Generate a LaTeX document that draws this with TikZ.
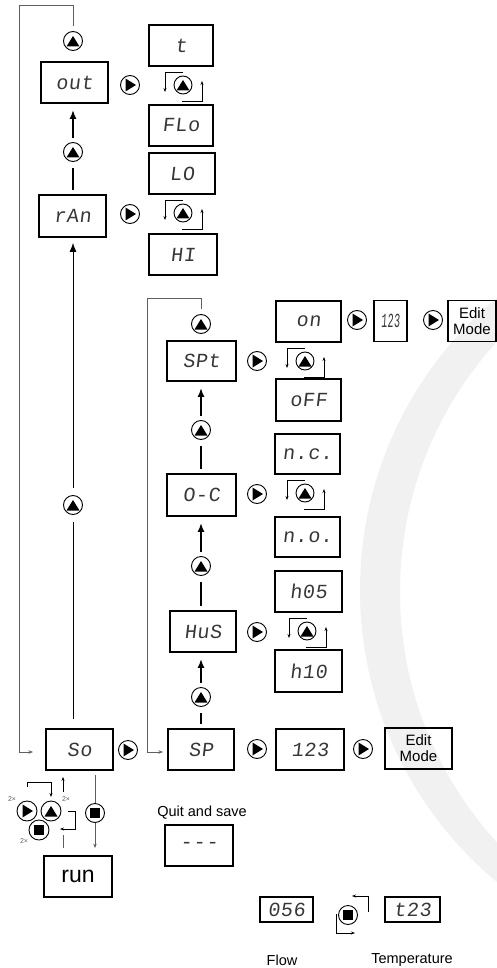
\documentclass[tikz,border=0pt]{standalone}
\usepackage{fontspec}
\usepackage{graphicx}
\setmainfont{Liberation Sans}
\newfontfamily\segfont[FakeSlant=0.12,LetterSpace=3]{Liberation Mono}
\newcommand\segtext{\segfont\fontsize{20}{20}\selectfont}
\usetikzlibrary{arrows.meta}
\definecolor{globegrey}{RGB}{241, 241, 241}
\definecolor{wiregrey}{RGB}{95, 95, 95}
\definecolor{lcdgrey}{RGB}{55, 55, 55}
\tikzstyle{display} = [
  draw,
  line width=1.8pt,
  minimum width=66pt,
  minimum height=41pt,
  inner sep=0pt,
  font=\segtext,
  text=lcdgrey,
]
\tikzstyle{editbox} = [
  draw,
  line width=1.8pt,
  minimum height=41pt,
  inner sep=0pt,
  align=center,
  font=\fontsize{15}{16}\selectfont,
]
\tikzstyle{plaintext} = [font=\fontsize{14.5}{16}\selectfont, inner sep=0pt]
\tikzstyle{twice} = [font=\fontsize{7}{7}\selectfont, text=wiregrey, inner sep=0pt]
\tikzstyle{key} = [circle, draw, line width=0.9pt, minimum size=19pt, inner sep=0pt]
\tikzstyle{keyup} = [key, path picture={
  \fill ([yshift=5pt]path picture bounding box.center) -- ++(-6.5pt,-10.5pt) -- ++(13pt,0pt) -- cycle;}]
\tikzstyle{keyright} = [key, path picture={
  \fill ([xshift=6pt]path picture bounding box.center) -- ++(-10.5pt,6.5pt) -- ++(0pt,-13pt) -- cycle;}]
\tikzstyle{keystop} = [key, path picture={
  \fill ([shift={(-5pt,-5pt)}]path picture bounding box.center) rectangle ++(10pt,10pt);}]
\tikzstyle{link} = [line width=1.8pt, shorten <=4.5pt, shorten >=6pt]
\tikzstyle{wire} = [draw=wiregrey, line width=0.8pt, -{Stealth[length=4.5pt,width=3.5pt]}]
\tikzstyle{turn} = [line width=0.7pt, -{Stealth[length=4pt,width=3pt]}]

\begin{document}
\begin{tikzpicture}[x=1pt, y=-1pt, >={Latex[length=9pt,width=7pt]}]
  \useasboundingbox (0,0) rectangle (497,968);

  % Globe behind the menu
  \begin{scope}
    \clip (0,0) rectangle (497,968);
    \fill[globegrey, even odd rule] (740,590) circle (380pt) (772,592) circle (372pt);
  \end{scope}

  % Output and range
  \node[keyup] (uOutTop) at (73,41) {};
  \node[display, minimum width=64pt] (t) at (181,45.5) {t};
  \node[display, minimum width=67pt] (out) at (74.5,82.5) {out};
  \node[keyright] (kOut) at (130,85) {};
  \node[keyup, minimum size=18pt] (cOut) at (183,85) {};
  \node[display, minimum width=64pt] (FLo) at (181,125.5) {FLo};
  \node[keyup] (uRan) at (73,152) {};
  \node[display] (LO) at (182,173.5) {LO};
  \node[display, minimum width=67pt, minimum height=42pt] (rAn) at (72.5,216) {rAn};
  \node[keyright] (kRan) at (130,214) {};
  \node[keyup, minimum size=18pt] (cRan) at (183,213) {};
  \node[display, minimum width=68pt] (HI) at (183,254.5) {HI};
  \node[keyup] (uMain) at (73,505) {};

  % Set point menu
  \node[keyup] (uSptTop) at (201,324) {};
  \node[display, minimum width=65pt] (on) at (308.5,321.5) {on};
  \node[keyright] (kOn) at (357,320) {};
  \node[display, minimum width=33pt] (valOn) at (390.5,321) {\scalebox{0.5}[1]{123}};
  \node[keyright] (kValOn) at (433,320) {};
  \node[editbox, minimum width=48pt] (editOn) at (472,321) {Edit\\Mode};
  \node[display, minimum width=69pt, minimum height=40pt] (SPt) at (201.5,361) {SPt};
  \node[keyright] (kSpt) at (257,361) {};
  \node[keyup, minimum size=18pt] (cSpt) at (305,361) {};
  \node[display, minimum width=65pt, minimum height=42pt] (oFF) at (308.5,400) {oFF};
  \node[keyup] (uOc) at (201,430) {};
  \node[display, minimum width=65pt, minimum height=40pt] (nc) at (307.5,454) {n.c.};
  \node[display, minimum width=69pt, minimum height=42pt] (OC) at (201.5,495) {O-C};
  \node[keyright] (kOc) at (257,494) {};
  \node[keyup, minimum size=18pt] (cOc) at (305,493) {};
  \node[display, minimum width=65pt, minimum height=40pt] (no) at (307.5,537) {n.o.};
  \node[keyup] (uHus) at (201,566) {};
  \node[display, minimum width=67pt] (h05) at (308.5,591.5) {h05};
  \node[display] (HuS) at (203,631.5) {HuS};
  \node[keyright] (kHus) at (257,632) {};
  \node[keyup, minimum size=18pt] (cHus) at (307,631) {};
  \node[display, minimum width=67pt, minimum height=42pt] (h10) at (308.5,671) {h10};
  \node[keyup] (uSp) at (201,697) {};

  % Bottom row
  \node[display, minimum width=67pt] (So) at (79.5,749.5) {So};
  \node[keyright] (kSo) at (128,750) {};
  \node[display] (SP) at (201,749.5) {SP};
  \node[keyright] (kSp) at (257,749) {};
  \node[display, minimum width=68pt] (val) at (310,749.5) {123};
  \node[keyright] (kVal) at (363,749) {};
  \node[editbox, minimum width=67pt] (edit) at (418.5,748.5) {Edit\\Mode};

  % Leaving the menu
  \node[keystop] (kStop) at (95,813) {};
  \node[display, minimum width=68pt, font=\fontsize{23}{23}\selectfont, text=black] (run) at (78,876.5) {run};
  \node[keyright, minimum size=20pt] (kR) at (27,811) {};
  \node[keyup, minimum size=20pt] (kU) at (51,811) {};
  \node[keystop, minimum size=20pt] (kS) at (39,830) {};
  \node[twice] (twoR) at (12,799) {2×};
  \node[twice] (twoU) at (66,799) {2×};
  \node[twice] (twoS) at (24,841) {2×};
  \node[plaintext] (quitText) at (202,813) {Quit and save};
  \node[display, minimum width=68pt] (quit) at (199,845.5) {-\kern1pt-\kern1pt-};

  % Run display
  \node[display, minimum width=53pt, minimum height=25pt] (flow) at (286.5,909.5) {056};
  \node[keystop] (kFlow) at (348,915) {};
  \node[display, minimum width=55pt, minimum height=25pt] (temp) at (412.5,909.5) {t23};
  \node[plaintext] (flowText) at (282,960) {Flow};
  \node[plaintext] (tempText) at (412,960) {Temperature};

  % Steps up the menus
  \draw[link] (rAn.north -| uRan) -- (uRan);
  \draw[link, ->] (uRan) -- (uRan |- out.south);
  \draw[line width=0.8pt, shorten <=9pt, shorten >=7pt] (So.north -| uMain) -- (uMain);
  \draw[line width=0.8pt, ->, shorten <=7pt, shorten >=5pt] (uMain) -- (uMain |- rAn.south);
  \draw[link] (SP.north -| uSp) -- (uSp);
  \draw[link, ->] (uSp) -- (uSp |- HuS.south);
  \draw[link] (HuS.north -| uHus) -- (uHus);
  \draw[link, ->] (uHus) -- (uHus |- OC.south);
  \draw[link] (OC.north -| uOc) -- (uOc);
  \draw[link, ->] (uOc) -- (uOc |- SPt.south);

  % Back to the start
  \coordinate (outerCorner) at (19,5);
  \coordinate (soEntry) at (33,752);
  \draw[wire, shorten <=5pt] (uOutTop.north) |- (outerCorner) |- (soEntry);
  \coordinate (innerCorner) at (147,298);
  \coordinate (spEntry) at (163,752);
  \draw[wire, shorten <=5pt] (uSptTop.north) |- (innerCorner) |- (spEntry);

  % Toggles
  \foreach \k in {cOut, cRan, cSpt, cOc, cHus} {
    \draw[turn] ([yshift=13pt]\k.center) -- ++(-18pt,0pt) -- ++(0pt,-20pt);
    \draw[turn] ([shift={(-1pt,-16pt)}]\k.center) -- ++(20pt,0pt) -- ++(0pt,20pt);
  }

  % Quit paths
  \draw[wire, -, shorten <=4pt] (So.south -| kStop) -- (kStop);
  \draw[wire, shorten >=7pt] (kStop) -- (kStop |- run.north);
  \draw[turn] ([yshift=24pt]kR.center) -- ++(0pt,5pt) -| ([yshift=14pt]kU.center);
  \draw[turn] ([xshift=17pt]kU.center) -| ([shift={(24pt,-18pt)}]kU.center) -- ++(-15pt,0pt);
  \coordinate (soExit) at (63,792);
  \draw[turn, shorten >=6pt] (soExit) -- (soExit |- So.south);
  \coordinate (runExit) at (63,835);
  \draw[wire, -, shorten <=7pt] (run.north -| runExit) -- (runExit);
  \draw[turn] ([shift={(20pt,3pt)}]kFlow.center) -- ++(0pt,16pt) -- ++(-16pt,0pt);
  \draw[turn] ([shift={(-12pt,1pt)}]kFlow.center) -- ++(0pt,-19pt) -- ++(19pt,0pt);
\end{tikzpicture}
\end{document}
